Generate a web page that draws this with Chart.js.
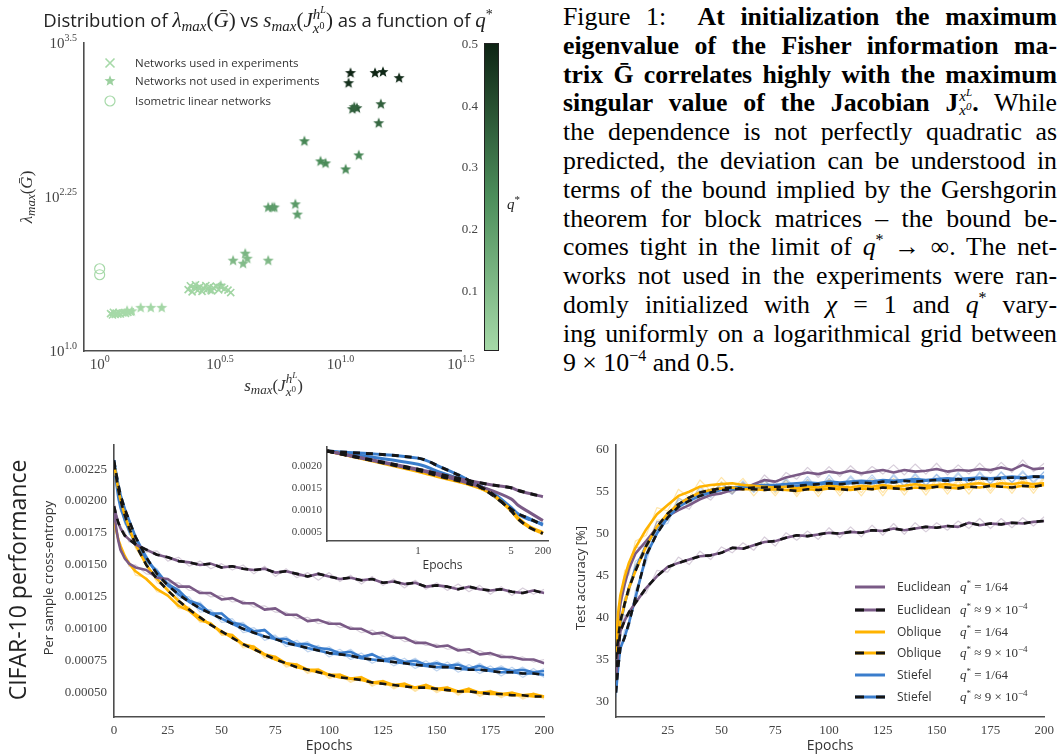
<!DOCTYPE html>
<html>
<head>
<meta charset="utf-8">
<script src="https://cdn.jsdelivr.net/npm/chart.js@4.4.1/dist/chart.umd.min.js"></script>
<style>
  body { margin: 0; background: #fff; width: 1060px; height: 755px; position: relative; overflow: hidden; }
  canvas { position: absolute; }
  #caption { position: absolute; left: 563px; top: 3px; width: 494px; font-family: 'Liberation Serif', serif; font-size: 25.8px; color: #000; }
  #caption > div { height: 28.8px; line-height: 28.8px; text-align: justify; text-align-last: justify; white-space: nowrap; }
  #caption > div.last { text-align-last: left; }
  #caption sup { font-size: 16px; line-height: 0; vertical-align: 10px; }
  #caption .ss { display: inline-flex; flex-direction: column; font-size: 15px; line-height: 14px; vertical-align: 10px; font-weight: normal; margin-left: 1px; }
  #caption .ss sup { font-size: 11px; vertical-align: 5px; }
</style>
</head>
<body>
<canvas id="scatter" width="540" height="400" style="left:0;top:0"></canvas>
<canvas id="loss" width="560" height="325" style="left:0;top:430px"></canvas>
<canvas id="inset" width="280" height="150" style="left:280px;top:435px"></canvas>
<canvas id="acc" width="500" height="325" style="left:560px;top:430px"></canvas>
<div id="caption">
  <div>Figure 1:&nbsp;&nbsp;<b>At initialization the maximum</b></div>
  <div><b>eigenvalue of the Fisher information ma-</b></div>
  <div><b>trix Ḡ correlates highly with the maximum</b></div>
  <div><b>singular value of the Jacobian J<span class="ss"><i>x<sup>L</sup></i><i>x<sup>0</sup></i></span>.</b> While</div>
  <div>the dependence is not perfectly quadratic as</div>
  <div>predicted, the deviation can be understood in</div>
  <div>terms of the bound implied by the Gershgorin</div>
  <div>theorem for block matrices – the bound be-</div>
  <div>comes tight in the limit of <i>q</i><sup>*</sup> → ∞. The net-</div>
  <div>works not used in the experiments were ran-</div>
  <div>domly initialized with <i>χ</i> = 1 and <i>q</i><sup>*</sup> vary-</div>
  <div>ing uniformly on a logarithmical grid between</div>
  <div class="last">9 × 10<sup>−4</sup> and 0.5.</div>
</div>
<script>
// ---- scatter: lambda_max vs s_max, coloured by q* ----
const CROSS_S = [1.11, 1.13, 1.14, 1.16, 1.17, 1.19, 1.20, 1.22, 1.25, 1.28, 1.31, 1.34,
  2.33, 2.38, 2.42, 2.47, 2.50, 2.55, 2.60, 2.66, 2.70, 2.76, 2.80, 2.86, 2.92, 2.97, 3.05, 3.12, 3.20, 3.30, 3.41, 3.50];
const CROSS_L = [20.1, 19.6, 20.6, 19.8, 20.3, 19.9, 20.5, 20.0, 20.4, 20.2, 20.6, 20.8,
  31.5, 33.8, 30.2, 32.6, 34.5, 31.0, 33.0, 30.5, 32.2, 34.0, 31.8, 33.2, 30.8, 32.5, 33.6, 31.4, 32.8, 31.9, 31.2, 29.8];
const CROSS_Q = [0.0009, 0.0009, 0.0009, 0.0009, 0.0009, 0.0009, 0.0009, 0.0009, 0.0009, 0.0009, 0.0009, 0.0009,
  0.0156, 0.0156, 0.0156, 0.0156, 0.0156, 0.0156, 0.0156, 0.0156, 0.0156, 0.0156, 0.0156, 0.0156, 0.0156, 0.0156, 0.0156, 0.0156, 0.0156, 0.0156, 0.0156, 0.0156];

const STAR_S = [11.0, 10.8, 13.9, 15.0, 17.5, 11.2, 11.7, 11.4, 14.7, 14.4, 7.08, 8.26, 8.66, 10.5, 11.9,
  5.01, 5.21, 5.31, 6.49, 6.62, 3.58, 3.94, 4.02, 4.10, 5.01, 2.52, 2.88, 3.18, 1.30, 1.36, 1.48, 1.63, 1.81];
const STAR_L = [1803, 1493, 1803, 1837, 1641, 918, 935, 953, 1007, 706, 504, 346, 333, 298, 387,
  146, 146, 146, 155, 128, 54.1, 51.1, 61.7, 56.1, 54.1, 33.2, 31.4, 33.9, 21.2, 21.0, 22.4, 22.4, 22.4];
const STAR_Q = [0.50, 0.47, 0.50, 0.49, 0.48, 0.36, 0.37, 0.35, 0.36, 0.34, 0.27, 0.25, 0.26, 0.26, 0.27,
  0.20, 0.21, 0.20, 0.21, 0.20, 0.11, 0.10, 0.12, 0.10, 0.11, 0.04, 0.05, 0.05, 0.004, 0.005, 0.006, 0.008, 0.01];

const CIRCLE_S = [1.0, 1.0];
const CIRCLE_L = [46.5, 41.6];

const S_TICK_EXP = ['0', '0.5', '1.0', '1.5'];
const L_TICK_EXP = ['1.0', '2.25', '3.5'];
const Q_TICKS = [0.1, 0.2, 0.3, 0.4, 0.5];
const Q_MIN = 0.0009, Q_MAX = 0.5;

// ---- CIFAR-10 loss ----
const EPOCHS = [0, 1, 2, 3, 5, 7, 10, 15, 20, 25, 30, 35, 40, 45, 50, 55, 60, 65, 70, 75, 80, 85, 90, 95, 100,
  105, 110, 115, 120, 125, 130, 135, 140, 145, 150, 155, 160, 165, 170, 175, 180, 185, 190, 195, 200];
const LOSS_EUC_S = [0.00192,0.00179,0.00169,0.00162,0.00155,0.00151,0.00148,0.00146,0.00140,0.00139,0.00133,0.00133,0.00128,0.00128,0.00123,0.00124,0.00120,0.00120,0.00115,0.00116,0.00111,0.00111,0.00106,0.00107,0.00104,0.00104,0.00100,0.00100,0.00096,0.00097,0.00093,0.00093,0.00089,0.00089,0.00086,0.00087,0.00083,0.00084,0.00080,0.00081,0.00078,0.00078,0.00076,0.00076,0.00073];
const LOSS_EUC_D = [0.00196,0.00189,0.00183,0.00179,0.00173,0.00170,0.00166,0.00162,0.00158,0.00156,0.00153,0.00152,0.00150,0.00151,0.00148,0.00149,0.00147,0.00146,0.00147,0.00144,0.00145,0.00143,0.00141,0.00143,0.00141,0.00139,0.00140,0.00138,0.00139,0.00136,0.00137,0.00135,0.00136,0.00133,0.00134,0.00133,0.00131,0.00133,0.00131,0.00130,0.00131,0.00129,0.00128,0.00130,0.00128];
const LOSS_OBL_S = [0.00186,0.00177,0.00170,0.00165,0.00157,0.00151,0.00145,0.00139,0.00131,0.00126,0.00118,0.00114,0.00107,0.00104,0.00097,0.00095,0.00088,0.00086,0.00080,0.00078,0.00073,0.00072,0.00068,0.00068,0.00064,0.00064,0.00061,0.00062,0.00058,0.00059,0.00056,0.00057,0.00054,0.00056,0.00053,0.00054,0.00051,0.00053,0.00050,0.00051,0.00049,0.00050,0.00048,0.00049,0.00047];
const LOSS_OBL_D = [0.00230,0.00219,0.00209,0.00201,0.00189,0.00179,0.00166,0.00150,0.00139,0.00130,0.00122,0.00115,0.00109,0.00103,0.00098,0.00093,0.00088,0.00084,0.00080,0.00076,0.00073,0.00070,0.00068,0.00066,0.00064,0.00062,0.00061,0.00060,0.00058,0.00057,0.00056,0.00055,0.00054,0.00054,0.00053,0.00052,0.00051,0.00051,0.00050,0.00049,0.00049,0.00048,0.00048,0.00047,0.00047];
const LOSS_STI_S = [0.00232,0.00215,0.00203,0.00195,0.00185,0.00177,0.00167,0.00154,0.00145,0.00135,0.00130,0.00122,0.00119,0.00112,0.00112,0.00105,0.00103,0.00098,0.00099,0.00092,0.00092,0.00088,0.00088,0.00085,0.00084,0.00081,0.00082,0.00078,0.00080,0.00076,0.00077,0.00074,0.00075,0.00072,0.00073,0.00071,0.00072,0.00069,0.00071,0.00068,0.00069,0.00067,0.00068,0.00066,0.00067];
const LOSS_STI_D = [0.00232,0.00222,0.00213,0.00205,0.00194,0.00185,0.00172,0.00156,0.00143,0.00134,0.00127,0.00121,0.00116,0.00112,0.00108,0.00104,0.00100,0.00097,0.00094,0.00092,0.00089,0.00087,0.00085,0.00083,0.00081,0.00080,0.00079,0.00077,0.00076,0.00075,0.00074,0.00073,0.00072,0.00071,0.00070,0.00070,0.00069,0.00068,0.00068,0.00067,0.00066,0.00066,0.00065,0.00065,0.00064];
// single runs behind the means
const RUN_EUC_S = [0.00190,0.00181,0.00172,0.00160,0.00157,0.00149,0.00150,0.00143,0.00142,0.00136,0.00136,0.00130,0.00130,0.00125,0.00126,0.00121,0.00122,0.00117,0.00118,0.00113,0.00113,0.00108,0.00109,0.00104,0.00106,0.00101,0.00102,0.00097,0.00099,0.00094,0.00095,0.00090,0.00091,0.00087,0.00088,0.00084,0.00085,0.00081,0.00083,0.00079,0.00080,0.00076,0.00078,0.00074,0.00076];
const RUN_EUC_D = [0.00198,0.00192,0.00181,0.00177,0.00176,0.00168,0.00169,0.00160,0.00161,0.00153,0.00156,0.00149,0.00153,0.00147,0.00151,0.00146,0.00150,0.00143,0.00149,0.00141,0.00147,0.00140,0.00144,0.00138,0.00144,0.00137,0.00142,0.00135,0.00141,0.00134,0.00139,0.00132,0.00138,0.00131,0.00136,0.00130,0.00135,0.00129,0.00134,0.00127,0.00133,0.00126,0.00132,0.00127,0.00131];
const RUN_OBL_S = [0.00184,0.00179,0.00168,0.00167,0.00154,0.00153,0.00142,0.00140,0.00129,0.00127,0.00116,0.00115,0.00105,0.00105,0.00095,0.00096,0.00086,0.00087,0.00078,0.00079,0.00071,0.00073,0.00066,0.00069,0.00062,0.00065,0.00059,0.00063,0.00056,0.00060,0.00054,0.00058,0.00052,0.00057,0.00051,0.00055,0.00049,0.00054,0.00048,0.00052,0.00047,0.00051,0.00046,0.00050,0.00046];
const RUN_OBL_D = [0.00229,0.00221,0.00206,0.00203,0.00186,0.00181,0.00163,0.00152,0.00136,0.00132,0.00119,0.00117,0.00106,0.00105,0.00095,0.00095,0.00085,0.00086,0.00077,0.00078,0.00070,0.00072,0.00065,0.00068,0.00061,0.00064,0.00058,0.00062,0.00055,0.00059,0.00053,0.00057,0.00051,0.00056,0.00050,0.00054,0.00048,0.00053,0.00047,0.00051,0.00046,0.00050,0.00045,0.00049,0.00045];
const RUN_STI_A = [0.00231,0.00212,0.00206,0.00192,0.00188,0.00174,0.00170,0.00151,0.00147,0.00133,0.00132,0.00120,0.00121,0.00111,0.00113,0.00104,0.00105,0.00097,0.00100,0.00091,0.00094,0.00087,0.00090,0.00083,0.00086,0.00080,0.00084,0.00077,0.00081,0.00075,0.00079,0.00073,0.00077,0.00071,0.00075,0.00070,0.00074,0.00068,0.00073,0.00067,0.00071,0.00066,0.00070,0.00065,0.00069];
const RUN_STI_B = [0.00233,0.00218,0.00200,0.00197,0.00182,0.00179,0.00164,0.00157,0.00141,0.00138,0.00126,0.00125,0.00115,0.00115,0.00107,0.00108,0.00099,0.00101,0.00094,0.00095,0.00088,0.00091,0.00084,0.00087,0.00080,0.00084,0.00078,0.00081,0.00075,0.00079,0.00073,0.00077,0.00071,0.00075,0.00069,0.00074,0.00068,0.00072,0.00067,0.00071,0.00065,0.00070,0.00064,0.00069,0.00063];
const RUN_STI_D = [0.00232,0.00224,0.00210,0.00207,0.00191,0.00187,0.00169,0.00158,0.00140,0.00136,0.00124,0.00123,0.00113,0.00114,0.00105,0.00106,0.00097,0.00099,0.00091,0.00094,0.00086,0.00089,0.00082,0.00085,0.00078,0.00082,0.00076,0.00079,0.00073,0.00077,0.00071,0.00075,0.00069,0.00073,0.00067,0.00072,0.00066,0.00070,0.00065,0.00069,0.00063,0.00068,0.00062,0.00067,0.00062];
const LOSS_XTICKS = [0, 25, 50, 75, 100, 125, 150, 175, 200];
const LOSS_YTICKS = [0.0005, 0.00075, 0.001, 0.00125, 0.0015, 0.00175, 0.002, 0.00225];

// ---- inset: loss against warped epoch axis ----
const INSET_EPOCHS = [0, 1, 2, 3, 4, 5, 50, 120, 200];
const INSET_EUC_S = [0.00233,0.00190,0.00177,0.00163,0.00147,0.00125,0.00110,0.00094,0.00076];
const INSET_EUC_D = [0.00233,0.00192,0.00180,0.00168,0.00158,0.00150,0.00144,0.00137,0.00130];
const INSET_OBL_S = [0.00233,0.00187,0.00173,0.00160,0.00141,0.00100,0.00081,0.00062,0.00049];
const INSET_OBL_D = [0.00233,0.00189,0.00175,0.00162,0.00143,0.00098,0.00079,0.00060,0.00047];
const INSET_STI_S = [0.00233,0.00203,0.00184,0.00167,0.00146,0.00106,0.00090,0.00078,0.00068];
const INSET_STI_D = [0.00233,0.00217,0.00196,0.00172,0.00141,0.00102,0.00091,0.00080,0.00066];
const INSET_XTICKS = [1, 5, 200];
const INSET_YTICKS = [0.0005, 0.001, 0.0015, 0.002];
const WARP_E = [0, 1, 5, 200];
const WARP_F = [0, 0.412, 0.833, 0.977];

// ---- test accuracy ----
const ACC_EPOCHS = [1, 2, 3, 5, 7, 10, 15, 20, 25, 30, 35, 40, 45, 50, 55, 60, 65, 70, 75, 80, 85, 90, 95, 100,
  105, 110, 115, 120, 125, 130, 135, 140, 145, 150, 155, 160, 165, 170, 175, 180, 185, 190, 195, 200];
const ACC_EUC_S = [36.5,39.5,41.6,43.9,45.8,47.6,49.1,50.7,52.1,52.8,53.4,54.1,54.6,54.8,55.2,55.3,55.9,56.4,56.2,56.7,57.0,57.3,57.1,57.4,57.2,57.5,57.2,57.4,57.6,57.3,57.6,57.4,57.5,57.7,57.4,57.6,57.5,57.7,57.6,57.9,57.6,58.2,57.7,57.8];
const ACC_EUC_D = [32.5,36.0,38.3,39.6,40.6,41.7,43.5,44.9,46.0,46.5,46.9,47.3,47.4,47.7,48.3,48.2,48.6,49.0,49.1,49.5,49.8,49.7,49.9,50.1,50.0,50.2,50.1,50.4,50.3,50.6,50.4,50.6,50.8,50.7,50.9,50.8,51.3,51.0,51.2,51.1,51.3,51.2,51.4,51.5];
const ACC_OBL_S = [37.0,40.5,42.6,44.8,46.5,48.3,50.5,52.3,53.4,54.5,55.0,55.6,55.8,55.9,56.0,55.8,55.7,55.6,55.5,55.6,55.4,55.6,55.5,55.7,55.6,55.5,55.7,55.6,55.8,55.6,55.7,55.9,55.7,55.8,55.9,55.7,55.9,56.0,55.8,56.0,55.9,56.1,55.9,56.0];
const ACC_OBL_D = [35.0,37.6,39.5,41.6,43.5,45.5,48.5,50.8,52.4,53.5,54.3,54.9,55.2,55.4,55.5,55.3,55.3,55.2,55.3,55.2,55.1,55.3,55.2,55.4,55.3,55.2,55.4,55.3,55.5,55.4,55.3,55.5,55.4,55.6,55.5,55.4,55.6,55.5,55.7,55.6,55.5,55.7,55.6,55.8];
const ACC_STI_S = [34.0,37.2,39.2,41.5,43.5,45.8,48.6,50.6,52.3,53.5,54.3,54.8,55.2,55.4,55.5,55.6,55.7,55.8,55.8,55.9,56.0,56.1,56.0,56.2,56.1,56.2,56.3,56.2,56.4,56.3,56.4,56.5,56.4,56.5,56.6,56.5,56.6,56.7,56.6,56.7,56.8,56.7,56.8,56.7];
const ACC_STI_D = [31.0,34.0,36.3,37.6,39.3,42.3,47.4,50.0,51.9,53.2,53.9,54.5,54.9,55.2,55.3,55.4,55.5,55.5,55.6,55.6,55.7,55.8,55.9,56.0,55.9,56.0,56.1,56.0,56.2,56.1,56.3,56.2,56.3,56.4,56.3,56.5,56.4,56.6,56.5,56.6,56.7,56.6,56.8,56.8];
const ARUN_EUC_S = [35.8,40.3,41.0,44.6,45.1,48.3,48.5,51.4,51.6,53.5,52.9,54.8,54.0,55.5,54.7,56.0,55.4,57.0,55.8,57.3,56.5,57.9,56.7,58.0,56.8,58.1,56.9,58.0,57.1,58.2,57.0,58.3,57.1,58.4,57.0,58.2,57.1,58.4,57.2,58.5,57.3,58.8,57.4,58.4];
const ARUN_EUC_D = [31.8,36.7,37.6,40.3,40.0,42.4,42.9,45.6,45.4,47.2,46.3,47.9,46.9,48.4,47.7,48.9,48.0,49.6,48.5,50.1,49.2,50.3,49.3,50.7,49.5,50.8,49.6,51.0,49.8,51.2,49.9,51.3,50.2,51.3,50.4,51.5,50.6,51.8,50.6,51.8,50.7,51.9,50.9,52.0];
const ARUN_OBL_S = [36.2,41.3,41.9,45.6,45.8,49.1,49.8,53.1,52.7,55.3,54.3,56.4,55.1,56.7,55.3,56.6,55.0,56.4,54.8,56.4,54.7,56.4,54.8,56.5,54.9,56.3,54.9,56.5,54.9,56.6,55.0,56.7,55.0,56.6,55.1,56.5,55.2,56.8,55.1,56.8,55.2,56.9,55.2,56.8];
const ARUN_OBL_D = [34.3,38.4,38.8,42.4,42.7,46.3,47.7,51.6,51.7,54.3,53.5,55.7,54.5,56.2,54.8,56.1,54.5,56.0,54.5,56.1,54.4,56.1,54.4,56.2,54.5,56.1,54.5,56.2,54.5,56.3,54.6,56.3,54.6,56.4,54.7,56.3,54.7,56.4,54.8,56.4,54.8,56.5,54.8,56.6];
const ARUN_STI_S = [33.2,38.0,38.4,42.3,42.8,46.7,47.6,51.4,51.6,54.2,53.6,55.5,54.5,56.1,54.9,56.3,55.0,56.5,55.1,56.6,55.3,56.8,55.2,57.0,55.4,56.9,55.6,57.0,55.5,57.1,55.7,57.2,55.8,57.1,55.9,57.3,55.8,57.4,56.0,57.4,56.1,57.5,56.0,57.4];
const ARUN_STI_D = [30.5,34.9,35.6,38.5,38.6,43.2,46.5,50.9,51.2,54.0,53.3,55.2,54.3,55.9,54.7,56.1,54.9,56.3,55.0,56.4,55.1,56.5,55.3,56.6,55.4,56.7,55.5,56.7,55.6,56.9,55.6,57.0,55.7,57.0,55.8,57.1,55.9,57.2,55.9,57.3,56.1,57.3,56.2,57.4];
const ACC_XTICKS = [25, 50, 75, 100, 125, 150, 175, 200];
const ACC_YTICKS = [30, 35, 40, 45, 50, 55, 60];

const LEGEND_NAMES = ['Euclidean', 'Euclidean', 'Oblique', 'Oblique', 'Stiefel', 'Stiefel'];
const LEGEND_DASHED = [false, true, false, true, false, true];

// ---- styling ----
const SERIF = "'Liberation Serif', 'DejaVu Serif', serif";
const SANS = "'Open Sans', 'DejaVu Sans', sans-serif";
const PURPLE = '#7a5a86', ORANGE = '#ffb300', BLUE = '#3a7dcc', DASH = '#151515';
const PURPLE_RUN = 'rgba(122,90,134,0.3)', ORANGE_RUN = 'rgba(255,179,0,0.34)', BLUE_RUN = 'rgba(58,125,204,0.32)';
const LEGEND_COLORS = [PURPLE, PURPLE, ORANGE, ORANGE, BLUE, BLUE];
const AXIS_COLOR = '#4d4d4d', TICK_COLOR = '#444', LABEL_COLOR = '#333';
const CMAP = [[0, [166, 217, 168]], [0.5, [76, 142, 91]], [1, [14, 36, 20]]];
const DASH_PATTERN = [7, 6];

Chart.defaults.font.family = SANS;

function qColor(q) {
  const t = Math.max(0, Math.min(1, (q - Q_MIN) / (Q_MAX - Q_MIN)));
  let i = 0;
  while (i < CMAP.length - 2 && t > CMAP[i + 1][0]) i++;
  const [t0, c0] = CMAP[i], [t1, c1] = CMAP[i + 1];
  const f = (t - t0) / (t1 - t0);
  return `rgb(${c0.map((c, k) => Math.round(c + (c1[k] - c) * f)).join(',')})`;
}

const starCache = {};
function starImage(color) {
  if (starCache[color]) return starCache[color];
  const c = document.createElement('canvas');
  const size = 14, R = 5.8, r = 2.5;
  c.width = c.height = size;
  const g = c.getContext('2d');
  g.fillStyle = color;
  g.beginPath();
  for (let i = 0; i < 10; i++) {
    const ang = -Math.PI / 2 + i * Math.PI / 5, rad = i % 2 ? r : R;
    g.lineTo(size / 2 + rad * Math.cos(ang), size / 2 + rad * Math.sin(ang));
  }
  g.closePath();
  g.fill();
  return (starCache[color] = c);
}

// mixed-font text: segments are [text, font, dy]; '<' marks, '|' jumps back to mark, '>' continues after the widest
function rich(ctx, segs, x, y, align) {
  const run = (x0, draw) => {
    let cx = 0, mark = 0, back = 0;
    for (const s of segs) {
      if (s === '<') { mark = cx; continue; }
      if (s === '|') { back = cx; cx = mark; continue; }
      if (s === '>') { cx = Math.max(cx, back); continue; }
      ctx.font = s[1];
      if (draw) ctx.fillText(s[0], x0 + cx, y + (s[2] || 0));
      cx += ctx.measureText(s[0]).width;
    }
    return cx;
  };
  ctx.textAlign = 'left';
  ctx.textBaseline = 'alphabetic';
  const w = run(0, false);
  const x0 = align === 'center' ? x - w / 2 : align === 'right' ? x - w : x;
  run(x0, true);
}
const serif = (px, style) => `${style || ''} ${px}px ${SERIF}`;
const sans = (px) => `${px}px ${SANS}`;

function warp(e) {
  for (let i = 1; i < WARP_E.length; i++) {
    if (e <= WARP_E[i]) {
      const f = (e - WARP_E[i - 1]) / (WARP_E[i] - WARP_E[i - 1]);
      return WARP_F[i - 1] + f * (WARP_F[i] - WARP_F[i - 1]);
    }
  }
  return WARP_F[WARP_F.length - 1];
}

const pts = (xs, ys) => xs.map((x, i) => ({ x, y: ys[i] }));
function line(xs, ys, color, width, order, dash, tension) {
  return { data: pts(xs, ys), borderColor: color, borderWidth: width, borderDash: dash || [], pointRadius: 0,
    fill: false, tension: tension || 0, order, borderCapStyle: 'butt', borderJoinStyle: 'round' };
}
function curve(xs, ys, color, dashed, width, tension) {
  const sets = [line(xs, ys, color, width, 1, null, tension)];
  if (dashed) sets.push(line(xs, ys, DASH, width, 0, DASH_PATTERN, tension));
  return sets;
}

function linAxis(min, max, ticks, fmt, size, pad, fit) {
  return {
    type: 'linear', min, max,
    grid: { display: false, drawTicks: false },
    border: { display: true, color: AXIS_COLOR, width: 1.6 },
    ticks: { font: { family: SERIF, size }, color: TICK_COLOR, padding: pad, callback: fmt },
    afterBuildTicks: (s) => { s.ticks = ticks.map(v => ({ value: v })); },
    afterFit: fit
  };
}

const baseOptions = {
  responsive: false, animation: false, devicePixelRatio: 1, events: [],
  plugins: { legend: { display: false }, tooltip: { enabled: false } }
};

// ---------- scatter ----------
const scatterDecor = {
  id: 'scatterDecor',
  afterDraw(chart) {
    const { ctx, chartArea: a, scales: { x, y } } = chart;
    ctx.save();
    ctx.fillStyle = TICK_COLOR;
    L_TICK_EXP.forEach(e => {
      const py = y.getPixelForValue(Math.pow(10, parseFloat(e)));
      rich(ctx, [['10', serif(15)], [e, serif(10), -7]], a.left - 7, py + 5, 'right');
    });
    S_TICK_EXP.forEach(e => {
      const px = x.getPixelForValue(Math.pow(10, parseFloat(e)));
      rich(ctx, [['10', serif(15)], [e, serif(10), -7]], px, a.bottom + 18, 'center');
    });

    // title
    ctx.fillStyle = '#222';
    const it21 = serif(21, 'italic'), r21 = serif(21), it15 = serif(15, 'italic'), ts = sans(18.5);
    rich(ctx, [['Distribution of ', ts], ['λ', it21], ['max', it15, 4], ['(', r21], ['Ḡ', it21], [')', r21],
      [' vs ', ts], ['s', it21], ['max', it15, 4], ['(', r21], ['J', it21],
      '<', ['h', it15, -8], ['L', serif(10, 'italic'), -14], '|', ['x', it15, 6], ['0', serif(10), 2], '>',
      [')', r21], [' as a function of ', ts], ['q', it21], ['*', serif(14), -8]], 268, 27, 'center');

    // axis titles
    ctx.fillStyle = LABEL_COLOR;
    const it17 = serif(17, 'italic'), r17 = serif(17), it13 = serif(13, 'italic');
    rich(ctx, [['s', it17], ['max', it13, 3], ['(', r17], ['J', it17],
      '<', ['h', it13, -8], ['L', serif(9, 'italic'), -13], '|', ['x', it13, 5], ['0', serif(9), 1], '>', [')', r17]],
      (a.left + a.right) / 2 + 1, a.bottom + 40, 'center');
    ctx.save();
    ctx.translate(32, (a.top + a.bottom) / 2);
    ctx.rotate(-Math.PI / 2);
    rich(ctx, [['λ', it17], ['max', it13, 3], ['(', r17], ['Ḡ', it17], [')', r17]], 0, 0, 'center');
    ctx.restore();

    // legend
    const lx = a.left + 26, rows = [a.top + 20, a.top + 38, a.top + 58];
    ctx.strokeStyle = qColor(Q_MIN);
    ctx.lineWidth = 1.6;
    ctx.beginPath();
    ctx.moveTo(lx - 4.5, rows[0] - 4.5); ctx.lineTo(lx + 4.5, rows[0] + 4.5);
    ctx.moveTo(lx + 4.5, rows[0] - 4.5); ctx.lineTo(lx - 4.5, rows[0] + 4.5);
    ctx.stroke();
    const st = starImage(qColor(0.03));
    ctx.drawImage(st, lx - st.width / 2, rows[1] - st.height / 2);
    ctx.lineWidth = 1.2;
    ctx.beginPath(); ctx.arc(lx, rows[2], 5, 0, Math.PI * 2); ctx.stroke();
    ctx.fillStyle = LABEL_COLOR;
    chart.data.datasets.forEach((d, i) => rich(ctx, [[d.label, sans(11.5)]], lx + 25, rows[i] + 4, 'left'));

    // colour bar
    const cx = a.right + 23, cw = 15, top = a.top, bot = a.bottom;
    const grad = ctx.createLinearGradient(0, bot, 0, top);
    for (let k = 0; k <= 10; k++) grad.addColorStop(k / 10, qColor(Q_MIN + (Q_MAX - Q_MIN) * k / 10));
    ctx.fillStyle = grad;
    ctx.fillRect(cx, top, cw, bot - top);
    ctx.strokeStyle = '#222';
    ctx.lineWidth = 1;
    ctx.strokeRect(cx + 0.5, top + 0.5, cw - 1, bot - top - 1);
    ctx.fillStyle = TICK_COLOR;
    Q_TICKS.forEach(q => {
      const py = bot - (q - Q_MIN) / (Q_MAX - Q_MIN) * (bot - top);
      rich(ctx, [[q.toFixed(1), serif(13)]], cx - 6, py + 5, 'right');
    });
    ctx.fillStyle = '#222';
    rich(ctx, [['q', serif(15, 'italic')], ['*', serif(11), -6]], cx + cw + 8, (top + bot) / 2 + 12, 'left');
    ctx.restore();
  }
};

new Chart(document.getElementById('scatter'), {
  type: 'scatter',
  data: {
    datasets: [
      { label: 'Networks used in experiments', data: pts(CROSS_S, CROSS_L), pointStyle: 'crossRot', pointRadius: 5,
        pointBorderWidth: 1.6, pointBorderColor: CROSS_Q.map(qColor), pointBackgroundColor: 'transparent' },
      { label: 'Networks not used in experiments', data: pts(STAR_S, STAR_L),
        pointStyle: STAR_Q.map(q => starImage(qColor(q))), pointRadius: 6 },
      { label: 'Isometric linear networks', data: pts(CIRCLE_S, CIRCLE_L), pointStyle: 'circle', pointRadius: 5,
        pointBorderWidth: 1.2, pointBorderColor: qColor(Q_MIN), pointBackgroundColor: 'transparent' }
    ]
  },
  options: Object.assign({}, baseOptions, {
    layout: { padding: { left: 0, right: 79, top: 43, bottom: 0 } },
    scales: {
      x: { type: 'logarithmic', min: Math.pow(10, -0.065), max: Math.pow(10, 1.5),
        grid: { display: false, drawTicks: false }, border: { display: true, color: AXIS_COLOR, width: 1.6 },
        ticks: { display: false }, afterFit: (s) => { s.height = 49; } },
      y: { type: 'logarithmic', min: 10, max: Math.pow(10, 3.5),
        grid: { display: false, drawTicks: false }, border: { display: true, color: AXIS_COLOR, width: 1.6 },
        ticks: { display: false }, afterFit: (s) => { s.width = 84; } }
    }
  }),
  plugins: [scatterDecor]
});

// ---------- loss ----------
const lossDecor = {
  id: 'lossDecor',
  afterDraw(chart) {
    const { ctx, chartArea: a } = chart;
    ctx.save();
    ctx.fillStyle = '#222';
    ctx.save();
    ctx.translate(26, 150);
    ctx.rotate(-Math.PI / 2);
    rich(ctx, [['CIFAR-10 performance', sans(23)]], 0, 0, 'center');
    ctx.restore();
    ctx.fillStyle = LABEL_COLOR;
    ctx.save();
    ctx.translate(53, 148);
    ctx.rotate(-Math.PI / 2);
    rich(ctx, [['Per sample cross-entropy', sans(13)]], 0, 0, 'center');
    ctx.restore();
    rich(ctx, [['Epochs', sans(14)]], (a.left + a.right) / 2, 320, 'center');
    ctx.restore();
  }
};

new Chart(document.getElementById('loss'), {
  type: 'line',
  data: {
    datasets: [
      line(EPOCHS, RUN_EUC_S, PURPLE_RUN, 1.2, 2), line(EPOCHS, RUN_EUC_D, PURPLE_RUN, 1.2, 2),
      line(EPOCHS, RUN_STI_A, BLUE_RUN, 1.2, 2), line(EPOCHS, RUN_STI_B, BLUE_RUN, 1.2, 2),
      line(EPOCHS, RUN_STI_D, BLUE_RUN, 1.2, 2),
      line(EPOCHS, RUN_OBL_S, ORANGE_RUN, 1.2, 2), line(EPOCHS, RUN_OBL_D, ORANGE_RUN, 1.2, 2),
      ...curve(EPOCHS, LOSS_EUC_D, PURPLE, true, 2.6),
      ...curve(EPOCHS, LOSS_EUC_S, PURPLE, false, 2.6),
      ...curve(EPOCHS, LOSS_OBL_S, ORANGE, false, 2.6),
      ...curve(EPOCHS, LOSS_OBL_D, ORANGE, true, 2.6),
      ...curve(EPOCHS, LOSS_STI_S, BLUE, false, 2.6),
      ...curve(EPOCHS, LOSS_STI_D, BLUE, true, 2.6)
    ]
  },
  options: Object.assign({}, baseOptions, {
    layout: { padding: { left: 36, right: 12, top: 8, bottom: 0 } },
    scales: {
      x: linAxis(0, 200, LOSS_XTICKS, (v) => String(v), 13, 6, (s) => { s.height = 38; }),
      y: linAxis(0.00031, 0.00244, LOSS_YTICKS, (v) => v.toFixed(5), 13, 7, (s) => { s.width = 78; })
    }
  }),
  plugins: [lossDecor]
});

// ---------- inset ----------
const insetDecor = {
  id: 'insetDecor',
  afterDraw(chart) {
    const { ctx, chartArea: a } = chart;
    ctx.save();
    ctx.fillStyle = LABEL_COLOR;
    rich(ctx, [['Epochs', sans(12)]], (a.left + a.right) / 2 + 5, 134, 'center');
    ctx.restore();
  }
};
const IX = INSET_EPOCHS.map(warp);
new Chart(document.getElementById('inset'), {
  type: 'line',
  data: {
    datasets: [
      ...curve(IX, INSET_EUC_D, PURPLE, true, 3, 0.35),
      ...curve(IX, INSET_EUC_S, PURPLE, false, 3, 0.35),
      ...curve(IX, INSET_OBL_S, ORANGE, false, 3, 0.35),
      ...curve(IX, INSET_OBL_D, ORANGE, true, 3, 0.35),
      ...curve(IX, INSET_STI_S, BLUE, false, 3, 0.35),
      ...curve(IX, INSET_STI_D, BLUE, true, 3, 0.35)
    ]
  },
  options: Object.assign({}, baseOptions, {
    layout: { padding: { left: 0, right: 12, top: 8, bottom: 0 } },
    scales: {
      x: linAxis(0, 1, INSET_XTICKS.map(warp), (v, i) => String(INSET_XTICKS[i]), 11, 4, (s) => { s.height = 44; }),
      y: linAxis(0.0003, 0.00243, INSET_YTICKS, (v) => v.toFixed(4), 11, 5, (s) => { s.width = 47; })
    }
  }),
  plugins: [insetDecor]
});

// ---------- accuracy ----------
const accDecor = {
  id: 'accDecor',
  afterDraw(chart) {
    const { ctx, chartArea: a } = chart;
    ctx.save();
    ctx.fillStyle = LABEL_COLOR;
    ctx.save();
    ctx.translate(25, 148);
    ctx.rotate(-Math.PI / 2);
    rich(ctx, [['Test accuracy [%]', sans(13)]], 0, 0, 'center');
    ctx.restore();
    rich(ctx, [['Epochs', sans(14)]], (a.left + a.right) / 2, 320, 'center');

    // legend
    const x0 = 295, x1 = 325, tx = 337, qx = 400, rows = [157, 180, 202, 223, 245, 267];
    LEGEND_NAMES.forEach((name, i) => {
      const y = rows[i];
      ctx.lineWidth = 3;
      ctx.setLineDash([]);
      ctx.strokeStyle = LEGEND_COLORS[i];
      ctx.beginPath(); ctx.moveTo(x0, y); ctx.lineTo(x1, y); ctx.stroke();
      if (LEGEND_DASHED[i]) {
        ctx.strokeStyle = DASH;
        ctx.setLineDash([9, 12]);
        ctx.beginPath(); ctx.moveTo(x0, y); ctx.lineTo(x1, y); ctx.stroke();
        ctx.setLineDash([]);
      }
      ctx.fillStyle = LABEL_COLOR;
      rich(ctx, [[name, sans(12)]], tx, y + 4, 'left');
      const q = [['q', serif(13, 'italic')], ['*', serif(9), -5]];
      const rest = LEGEND_DASHED[i]
        ? [[' ≈ 9 × 10', serif(13)], ['−4', serif(9), -5]]
        : [[' = 1/64', serif(13)]];
      rich(ctx, q.concat(rest), qx, y + 4, 'left');
    });
    ctx.restore();
  }
};

new Chart(document.getElementById('acc'), {
  type: 'line',
  data: {
    datasets: [
      line(ACC_EPOCHS, ARUN_EUC_S, PURPLE_RUN, 1.2, 2), line(ACC_EPOCHS, ARUN_EUC_D, PURPLE_RUN, 1.2, 2),
      line(ACC_EPOCHS, ARUN_STI_S, BLUE_RUN, 1.2, 2), line(ACC_EPOCHS, ARUN_STI_D, BLUE_RUN, 1.2, 2),
      line(ACC_EPOCHS, ARUN_OBL_S, ORANGE_RUN, 1.2, 2), line(ACC_EPOCHS, ARUN_OBL_D, ORANGE_RUN, 1.2, 2),
      ...curve(ACC_EPOCHS, ACC_EUC_D, PURPLE, true, 2.6),
      ...curve(ACC_EPOCHS, ACC_OBL_S, ORANGE, false, 2.6),
      ...curve(ACC_EPOCHS, ACC_OBL_D, ORANGE, true, 2.6),
      ...curve(ACC_EPOCHS, ACC_STI_S, BLUE, false, 2.6),
      ...curve(ACC_EPOCHS, ACC_STI_D, BLUE, true, 2.6),
      ...curve(ACC_EPOCHS, ACC_EUC_S, PURPLE, false, 2.6)
    ]
  },
  options: Object.assign({}, baseOptions, {
    layout: { padding: { left: 0, right: 10, top: 8, bottom: 0 } },
    scales: {
      x: linAxis(1, 200, ACC_XTICKS, (v) => String(v), 13, 6, (s) => { s.height = 38; }),
      y: linAxis(28.1, 60.6, ACC_YTICKS, (v) => String(v), 13, 7, (s) => { s.width = 56; })
    }
  }),
  plugins: [accDecor]
});
</script>
</body>
</html>
